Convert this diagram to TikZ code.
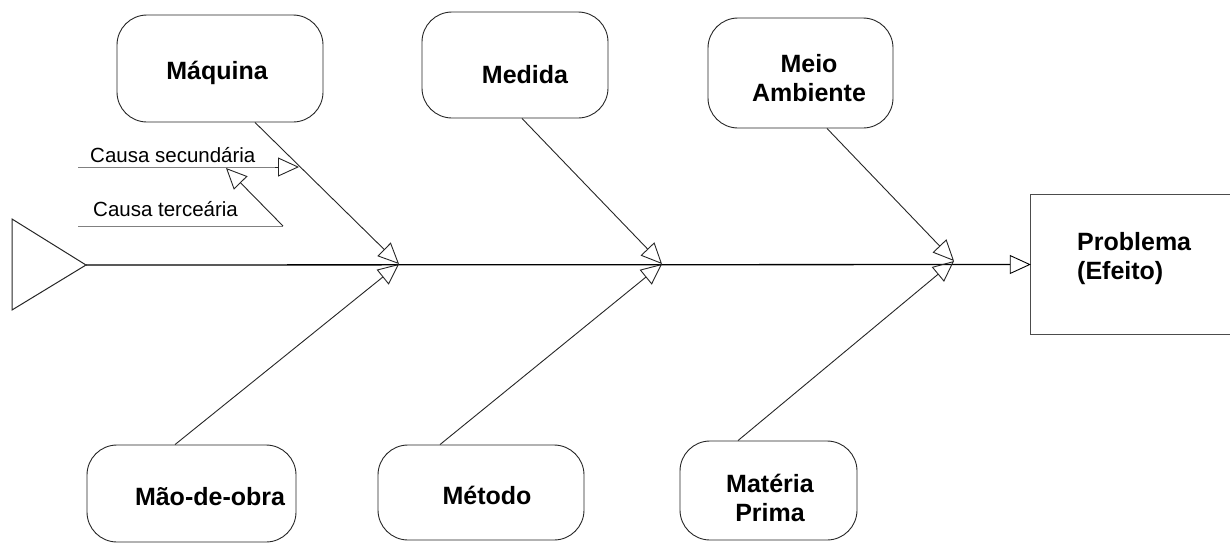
\documentclass[tikz,border=0pt]{standalone}
\usepackage{fontspec}
\setmainfont{Liberation Sans}
\usetikzlibrary{arrows.meta}
\tikzset{
  box/.style={draw=black!85, line width=0.9pt, rounded corners=30pt, inner sep=0pt},
  lbl/.style={font=\fontsize{25}{29}\selectfont\bfseries, align=center, inner sep=0pt},
  small/.style={font=\fontsize{20.5}{24}\selectfont, inner sep=0pt},
  tip/.style={-{Triangle[open, length=21pt, width=19pt, line width=0.9pt]}},
  branch/.style={draw=black!85, line width=0.9pt, tip},
  spine/.style={draw=black, line width=1.3pt},
  cause/.style={draw=black!50, line width=1pt}
}
\begin{document}
\begin{tikzpicture}[x=1pt, y=-1pt]
\useasboundingbox (0,0) rectangle (1230,544);
% boxes
\node[box, minimum width=206pt, minimum height=107pt] (maq) at (220,68.5) {};
\node[box, minimum width=186pt, minimum height=106pt] (med) at (515,65) {};
\node[box, minimum width=185pt, minimum height=110pt] (mei) at (800.5,73) {};
\node[box, minimum width=209pt, minimum height=97pt] (mao) at (191.5,493.5) {};
\node[box, minimum width=206pt, minimum height=95pt] (met) at (481,492.5) {};
\node[box, minimum width=177pt, minimum height=99pt] (mat) at (768.5,490.5) {};
% labels
\node[lbl] (tmaq) at (217,73) {Máquina};
\node[lbl] (tmed) at (525,75) {Medida};
\node[lbl] (tmei) at (809,78) {Meio\\Ambiente};
\node[lbl] (tmao) at (210,497) {Mão-de-obra};
\node[lbl] (tmet) at (487,495) {Método};
\node[lbl] (tmat) at (770,498) {Matéria\\Prima};
% effect box (right side cut by page edge)
\node[minimum width=199pt, minimum height=139pt, inner sep=0pt] (prob) at (1130.5,264.5) {};
\draw[draw=black!70, line width=1pt] (prob.north east) -- (prob.north west) -- (prob.south west) -- (prob.south east);
\node[lbl, anchor=west, align=left] (tprob) at (1077,259) {Problema\\(Efeito)};
% fish tail
\coordinate (tail) at (86,265);
\draw[draw=black!85, line width=1pt] (12,219) -- (tail) -- (12,310) -- cycle;
% junctions
\coordinate (j1) at (399,264);
\coordinate (j2) at (662,264);
\coordinate (j3) at (954,261);
% spine
\draw[spine, tip] (tail) -- (prob.west);
% branches
\draw[branch] ([xshift=35pt]maq.south) -- (j1);
\draw[branch] ([xshift=-16.5pt]mao.north) -- (j1);
\draw[branch] ([xshift=7pt]med.south) -- (j2);
\draw[branch] ([xshift=-41pt]met.north) -- (j2);
\draw[branch] ([xshift=26.5pt]mei.south) -- (j3);
\draw[branch] ([xshift=-30.5pt]mat.north) -- (j3);
% secondary and tertiary causes
\coordinate (cs0) at (78,167);
\coordinate (cs1) at (299,167);
\coordinate (ct0) at (78,226);
\coordinate (ct1) at (283,226);
\coordinate (ct2) at (226,168);
\draw[cause] (cs0) -- (275,167);
\draw[branch] (275,167) -- (cs1);
\node[small, anchor=base west] (tcs) at (90,162) {Causa secundária};
\draw[cause] (ct0) -- (ct1);
\draw[branch] (ct1) -- (ct2);
\node[small, anchor=base west] (tct) at (93,216) {Causa terceária};
\end{tikzpicture}
\end{document}
